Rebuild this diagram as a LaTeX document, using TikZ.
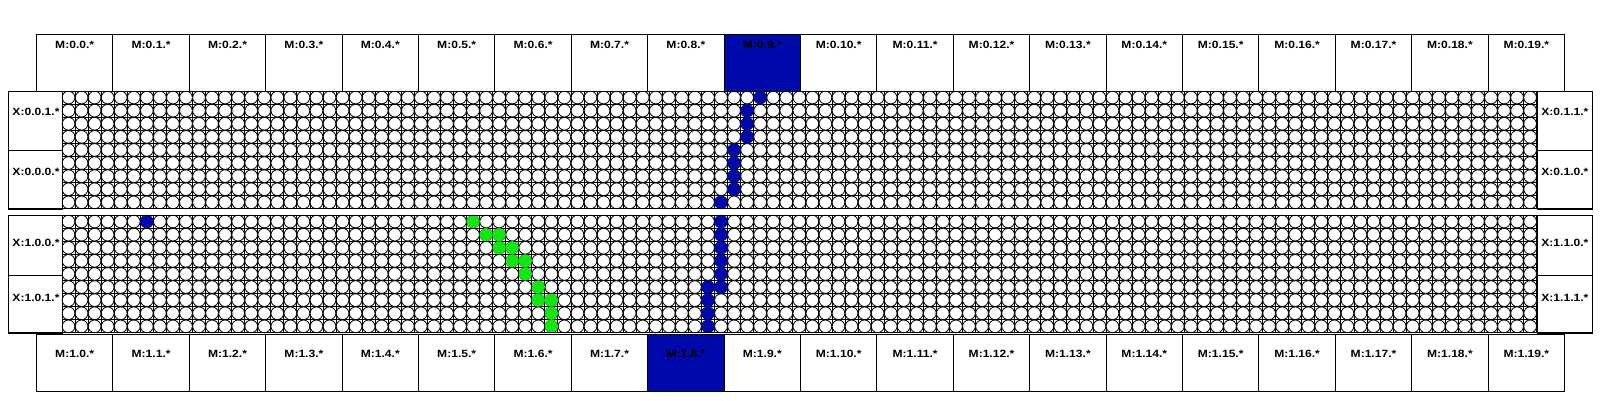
\documentclass[tikz,border=0pt]{standalone}
\usepackage{fontspec}
\setmainfont{Liberation Sans}
\usepackage{graphicx}
\usetikzlibrary{calc}
\definecolor{routeblue}{RGB}{0,10,170}
\definecolor{routegreen}{RGB}{20,230,20}
\newcommand{\wlbl}[1]{\scalebox{1.15}[1]{\bfseries #1}}
\begin{document}
\begin{tikzpicture}[x=1pt,y=-1pt,
  mbox/.style={draw, line width=1pt, minimum width=76.4pt, minimum height=57pt, inner sep=0pt, anchor=north west},
  xbox/.style={draw, line width=1pt, inner sep=0pt, anchor=north west},
  lbl/.style={font=\fontsize{10.5}{11}\selectfont, inner sep=0pt},
  cell/.style={draw, line width=0.8pt, fill=white},
  gline/.style={line width=0.9pt},
  bdot/.style={fill=routeblue},
  gdot/.style={fill=routegreen}]
\useasboundingbox (0,0) rectangle (1600,400);
\def\GL{62}\def\CW{13.05}\def\CH{13.1}
\def\TT{91}\def\BT{215}
% grids
\foreach \gt in {\TT,\BT}{
  \foreach \i in {0,...,113}{ \draw[gline] ({\GL+\i*\CW},\gt) -- ({\GL+\i*\CW},{\gt+9*\CH}); }
  \foreach \j in {0,...,9}{ \draw[gline] (\GL,{\gt+\j*\CH}) -- ({\GL+113*\CW},{\gt+\j*\CH}); }
  \foreach \i in {0,...,112}{
    \foreach \j in {0,...,8}{
      \draw[cell] ({\GL+(\i+0.5)*\CW},{\gt+(\j+0.5)*\CH}) circle (6.35);
    }
  }
}
% route dots
\foreach \c/\r in {53/0,52/1,52/2,52/3,51/4,51/5,51/6,51/7,50/8}{
  \fill[bdot] ({\GL+(\c+0.5)*\CW},{\TT+(\r+0.5)*\CH}) circle (6.6);
}
\foreach \c/\r in {6/0,50/0,50/1,50/2,50/3,50/4,50/5,49/5,49/6,49/7,49/8}{
  \fill[bdot] ({\GL+(\c+0.5)*\CW},{\BT+(\r+0.5)*\CH}) circle (6.6);
}
\foreach \c/\r in {31/0,32/1,33/1,33/2,34/2,34/3,35/3,35/4,36/5,36/6,37/6,37/7,37/8}{
  \fill[gdot] ({\GL+(\c+0.5)*\CW},{\BT+(\r+0.5)*\CH}) circle (6.6);
}
% X boxes
\node[xbox, minimum width=53.7pt, minimum height=59pt] (x001) at (8.3,\TT) {};
\node[xbox, minimum width=53.7pt, minimum height=58.9pt] (x000) at (8.3,150) {};
\node[xbox, minimum width=55.6pt, minimum height=59pt] (x011) at (1536.7,\TT) {};
\node[xbox, minimum width=55.6pt, minimum height=58.9pt] (x010) at (1536.7,150) {};
\node[xbox, minimum width=53.7pt, minimum height=59.7pt] (x100) at (8.3,\BT) {};
\node[xbox, minimum width=53.7pt, minimum height=58.2pt] (x101) at (8.3,274.7) {};
\node[xbox, minimum width=55.6pt, minimum height=59.7pt] (x110) at (1536.7,\BT) {};
\node[xbox, minimum width=55.6pt, minimum height=58.2pt] (x111) at (1536.7,274.7) {};
\node[lbl, anchor=west] at (12.3,111.7) {\wlbl{X:0.0.1.*}};
\node[lbl, anchor=west] at (12.3,171.7) {\wlbl{X:0.0.0.*}};
\node[lbl, anchor=west] at (1541.2,111.7) {\wlbl{X:0.1.1.*}};
\node[lbl, anchor=west] at (1541.2,171.7) {\wlbl{X:0.1.0.*}};
\node[lbl, anchor=west] at (12.3,243) {\wlbl{X:1.0.0.*}};
\node[lbl, anchor=west] at (12.3,298.3) {\wlbl{X:1.0.1.*}};
\node[lbl, anchor=west] at (1541.2,243) {\wlbl{X:1.1.0.*}};
\node[lbl, anchor=west] at (1541.2,298.3) {\wlbl{X:1.1.1.*}};
% grid outlines
\draw[line width=1pt] (8.3,\TT) rectangle (1592.3,{\TT+9*\CH});
\draw[line width=1pt] (8.3,\BT) rectangle (1592.3,{\BT+9*\CH});
% M boxes
\foreach \i in {0,...,19}{
  \ifnum\i=9 \def\mf{routeblue}\else\def\mf{white}\fi
  \node[mbox, fill=\mf] (mt\i) at ({36+\i*76.4},34) {};
  \node[lbl] at ($(mt\i.north)+(0,11)$) {\wlbl{M:0.\i.*}};
}
\foreach \i in {0,...,19}{
  \ifnum\i=8 \def\mf{routeblue}\else\def\mf{white}\fi
  \node[mbox, fill=\mf] (mb\i) at ({36+\i*76.4},333.6) {};
  \node[lbl] at ($(mb\i.north)+(0,20)$) {\wlbl{M:1.\i.*}};
}
\end{tikzpicture}
\end{document}
